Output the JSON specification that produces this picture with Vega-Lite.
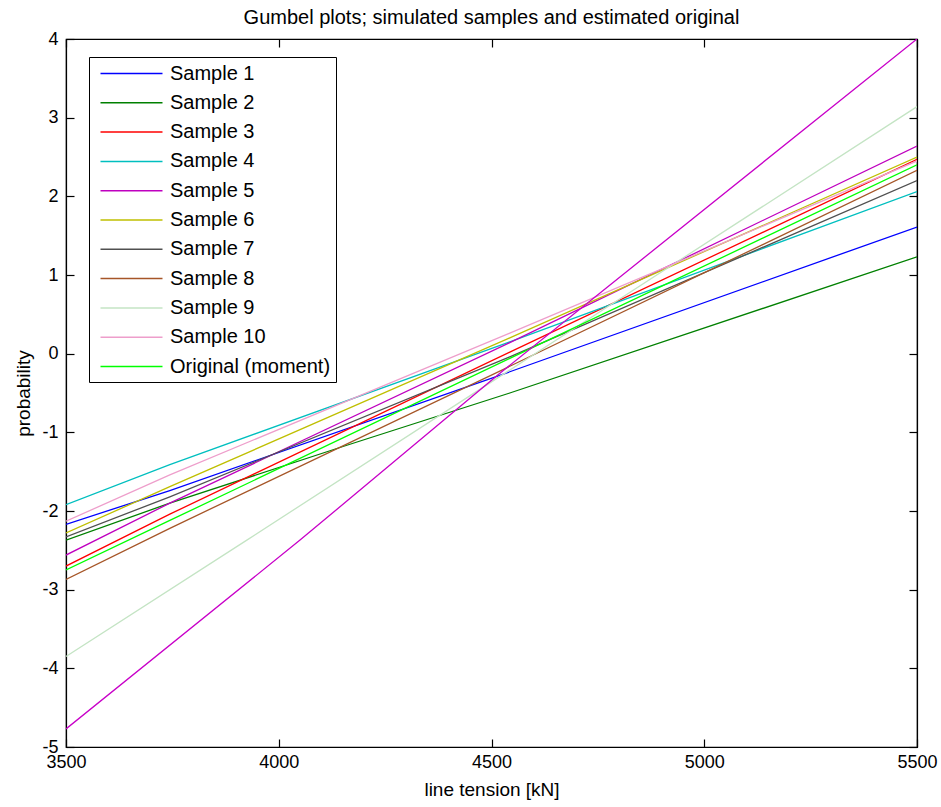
{
  "$schema": "https://vega.github.io/schema/vega-lite/v6.json",
  "autosize": {"type": "none"},
  "width": 851,
  "height": 708,
  "padding": {"left": 66, "top": 39, "right": 24, "bottom": 60},
  "background": "white",
  "title": {
    "text": "Gumbel plots; simulated samples and estimated original",
    "font": "Liberation Sans",
    "fontSize": 20,
    "fontWeight": "normal",
    "color": "black",
    "anchor": "middle",
    "offset": 2
  },
  "config": {
    "view": {"stroke": "black", "strokeWidth": 1.2},
    "axis": {
      "labelFont": "Liberation Sans",
      "labelFontSize": 18,
      "labelColor": "black",
      "labelExpr": "'' + datum.value",
      "titleFont": "Liberation Sans",
      "titleFontSize": 19,
      "titleFontWeight": "normal",
      "titleColor": "black",
      "domainColor": "black",
      "domainWidth": 1.2,
      "tickColor": "black",
      "tickWidth": 1.2,
      "grid": false,
      "labelFlush": false,
      "labelOverlap": false
    },
    "legend": {
      "labelFont": "Liberation Sans",
      "labelFontSize": 20,
      "labelColor": "black",
      "labelLimit": 400
    }
  },
  "data": {
    "values": [
      {"series": "Sample 1", "x": 3500, "y": -2.17},
      {"series": "Sample 1", "x": 3744, "y": -1.74},
      {"series": "Sample 1", "x": 4543, "y": -0.23},
      {"series": "Sample 1", "x": 5500, "y": 1.61},
      {"series": "Sample 2", "x": 3500, "y": -2.37},
      {"series": "Sample 2", "x": 3744, "y": -1.90},
      {"series": "Sample 2", "x": 4151, "y": -1.18},
      {"series": "Sample 2", "x": 4543, "y": -0.50},
      {"series": "Sample 2", "x": 5500, "y": 1.23},
      {"series": "Sample 3", "x": 3500, "y": -2.70},
      {"series": "Sample 3", "x": 3744, "y": -2.04},
      {"series": "Sample 3", "x": 4543, "y": 0.02},
      {"series": "Sample 3", "x": 5500, "y": 2.47},
      {"series": "Sample 4", "x": 3500, "y": -1.92},
      {"series": "Sample 4", "x": 3744, "y": -1.41},
      {"series": "Sample 4", "x": 4543, "y": 0.15},
      {"series": "Sample 4", "x": 5500, "y": 2.06},
      {"series": "Sample 5", "x": 3500, "y": -2.56},
      {"series": "Sample 5", "x": 3744, "y": -1.90},
      {"series": "Sample 5", "x": 4543, "y": 0.14},
      {"series": "Sample 5", "x": 5500, "y": 2.64},
      {"series": "Sample 6", "x": 3500, "y": -2.28},
      {"series": "Sample 6", "x": 3744, "y": -1.69},
      {"series": "Sample 6", "x": 4543, "y": 0.20},
      {"series": "Sample 6", "x": 5500, "y": 2.50},
      {"series": "Sample 7", "x": 3500, "y": -2.33},
      {"series": "Sample 7", "x": 3744, "y": -1.82},
      {"series": "Sample 7", "x": 4543, "y": -0.04},
      {"series": "Sample 7", "x": 5500, "y": 2.20},
      {"series": "Sample 8", "x": 3500, "y": -2.87},
      {"series": "Sample 8", "x": 3744, "y": -2.22},
      {"series": "Sample 8", "x": 4543, "y": -0.16},
      {"series": "Sample 8", "x": 5500, "y": 2.33},
      {"series": "Sample 9", "x": 3500, "y": -3.85},
      {"series": "Sample 9", "x": 3925, "y": -2.37},
      {"series": "Sample 9", "x": 5500, "y": 3.14},
      {"series": "Sample 10", "x": 3500, "y": -2.13},
      {"series": "Sample 10", "x": 3744, "y": -1.54},
      {"series": "Sample 10", "x": 4543, "y": 0.26},
      {"series": "Sample 10", "x": 5500, "y": 2.45},
      {"series": "Original (moment)", "x": 3500, "y": -2.75},
      {"series": "Original (moment)", "x": 3744, "y": -2.12},
      {"series": "Original (moment)", "x": 4543, "y": -0.06},
      {"series": "Original (moment)", "x": 5500, "y": 2.40},
      {"series": "Sample 11", "x": 3500, "y": -4.77},
      {"series": "Sample 11", "x": 4050, "y": -2.37},
      {"series": "Sample 11", "x": 4524, "y": -0.23},
      {"series": "Sample 11", "x": 5500, "y": 4.0}
    ]
  },
  "layer": [
    {
      "mark": {"type": "line", "strokeWidth": 1.3, "clip": true},
      "encoding": {
        "x": {
          "field": "x",
          "type": "quantitative",
          "scale": {"domain": [3500, 5500], "nice": false, "zero": false},
          "axis": {
            "title": "line tension [kN]",
            "values": [3500, 4000, 4500, 5000, 5500],
            "tickSize": -8,
            "labelPadding": 14.5,
            "titlePadding": 9
          }
        },
        "y": {
          "field": "y",
          "type": "quantitative",
          "scale": {"domain": [-5, 4], "nice": false, "zero": false},
          "axis": {
            "title": "probability",
            "values": [-5, -4, -3, -2, -1, 0, 1, 2, 3, 4],
            "tickSize": -8,
            "labelPadding": 16,
            "titlePadding": 8
          }
        },
        "color": {
          "field": "series",
          "type": "nominal",
          "scale": {
            "domain": ["Sample 1", "Sample 2", "Sample 3", "Sample 4", "Sample 5", "Sample 6", "Sample 7", "Sample 8", "Sample 9", "Sample 10", "Original (moment)", "Sample 11"],
            "range": ["#0000FF", "#008000", "#FF0000", "#00BFBF", "#BF00BF", "#BFBF00", "#505050", "#A65628", "#C4E4C4", "#EE9ECB", "#00FF00", "#C800C8"]
          },
          "legend": {
            "title": null,
            "values": ["Sample 1", "Sample 2", "Sample 3", "Sample 4", "Sample 5", "Sample 6", "Sample 7", "Sample 8", "Sample 9", "Sample 10", "Original (moment)"],
            "orient": "none",
            "legendX": 23,
            "legendY": 18,
            "fillColor": "white",
            "strokeColor": "black",
            "padding": 5,
            "symbolType": "M-3,0H3",
            "symbolSize": 427,
            "symbolStrokeWidth": 1.5,
            "symbolOffset": 26,
            "labelOffset": 27,
            "labelLimit": 400,
            "rowPadding": 7.3
          }
        }
      }
    },
    {
      "mark": {"type": "line", "strokeOpacity": 0},
      "encoding": {
        "x": {
          "field": "x",
          "type": "quantitative",
          "axis": {"orient": "top", "labels": false, "title": null, "tickSize": -8, "values": [3500, 4000, 4500, 5000, 5500]}
        },
        "y": {
          "field": "y",
          "type": "quantitative",
          "axis": {"orient": "right", "labels": false, "title": null, "tickSize": -8, "values": [-5, -4, -3, -2, -1, 0, 1, 2, 3, 4]}
        },
        "detail": {"field": "series", "type": "nominal"}
      }
    }
  ],
  "resolve": {"axis": {"x": "independent", "y": "independent"}}
}
